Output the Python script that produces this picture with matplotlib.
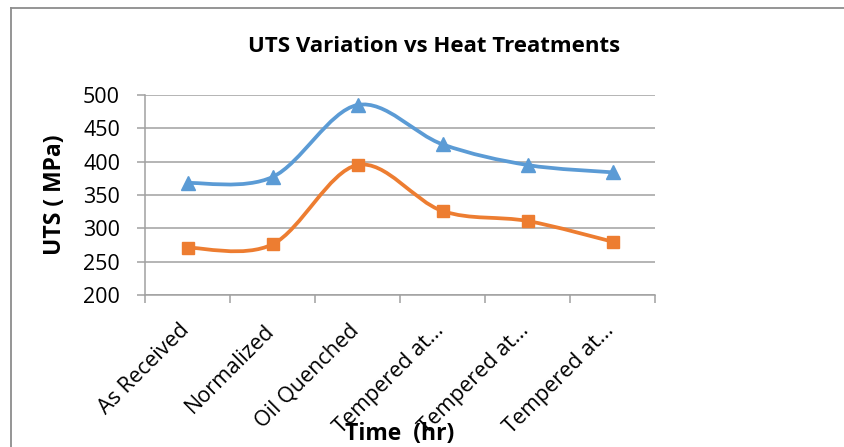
import numpy as np
import matplotlib
matplotlib.use("Agg")
import matplotlib.pyplot as plt
import matplotlib.transforms as mtransforms
from matplotlib.path import Path
from matplotlib.patches import PathPatch
from matplotlib.lines import Line2D

plt.rcParams['font.family'] = ['Open Sans', 'DejaVu Sans']

categories = ["As Received", "Normalized", "Oil Quenched",
              "Tempered at...", "Tempered at...", "Tempered at..."]
uts_upper = [368, 377, 485, 426, 395, 384]
uts_lower = [271, 276, 395, 326, 311, 280]

BLUE = "#5B9BD5"
ORANGE = "#ED7D31"
GRID = "#A0A0A0"


def smooth_path(xs, ys):
    # Excel-style smoothed line: cubic Bezier segments through every point
    pts = np.column_stack([xs, ys]).astype(float)
    ext = np.vstack([pts[0], pts, pts[-1]])
    verts = [tuple(pts[0])]
    codes = [Path.MOVETO]
    for i in range(1, len(ext) - 2):
        p0, p1, p2, p3 = ext[i - 1], ext[i], ext[i + 1], ext[i + 2]
        c1 = p1 + (p2 - p0) / 6.0
        c2 = p2 - (p3 - p1) / 6.0
        verts += [tuple(c1), tuple(c2), tuple(p2)]
        codes += [Path.CURVE4] * 3
    return Path(verts, codes)


fig = plt.figure(figsize=(8.44, 4.47), dpi=100)
W, H = 844, 447
ax = fig.add_axes([145 / W, 1 - 295 / H, 510 / W, 200 / H])

x = np.arange(len(categories))
for vals, color, marker, ms in [(uts_upper, BLUE, '^', 10), (uts_lower, ORANGE, 's', 8)]:
    ax.add_patch(PathPatch(smooth_path(x, vals), facecolor='none', edgecolor=color,
                           lw=2.7, capstyle='round', zorder=3))
    ax.plot(x, vals, linestyle='none', marker=marker, markersize=ms,
            color=color, zorder=4)

ax.set_xlim(-0.5, len(categories) - 0.5)
ax.set_ylim(200, 500)
ax.set_yticks(np.arange(200, 501, 50))
ax.yaxis.grid(True, color=GRID, lw=1.1)
ax.set_axisbelow(True)

ax.set_xticks(np.arange(-0.5, len(categories), 1.0))
ax.set_xticklabels([])
ax.set_xticks(x, minor=True)
ax.set_xticklabels(categories, minor=True, rotation=45, ha='right', va='top')
ax.tick_params(axis='x', which='minor', length=0, pad=18, labelsize=15.5)
ax.tick_params(axis='x', which='major', length=6, color=GRID, width=1.1, direction='out')
ax.tick_params(axis='y', length=6, color=GRID, width=1.1, pad=12, labelsize=15.5)
shift = mtransforms.ScaledTranslation(6 / 100, 0, fig.dpi_scale_trans)
for lab in ax.get_xticklabels(minor=True):
    lab.set_transform(lab.get_transform() + shift)

for side in ['top', 'right']:
    ax.spines[side].set_visible(False)
for side in ['left', 'bottom']:
    ax.spines[side].set_color(GRID)
    ax.spines[side].set_linewidth(1.1)

fig.text(434 / W, 1 - 46 / H, "UTS Variation vs Heat Treatments",
         ha='center', va='center', fontsize=16, fontweight='bold')
fig.text(55 / W, 1 - 195 / H, "UTS ( MPa)", ha='center', va='center',
         rotation=90, fontsize=16.5, fontweight='bold')
fig.text(400 / W, 1 - 434 / H, "Time  (hr)", ha='center', va='center',
         fontsize=16.5, fontweight='bold')

# chart area border (left and top edges visible)
fig.add_artist(Line2D([11 / W, 11 / W], [0, 1 - 8 / H], transform=fig.transFigure,
                      color='#8C8C8C', lw=1.3))
fig.add_artist(Line2D([11 / W, 1], [1 - 8 / H, 1 - 8 / H], transform=fig.transFigure,
                      color='#8C8C8C', lw=1.3))

fig.savefig("out.png", dpi=100)
